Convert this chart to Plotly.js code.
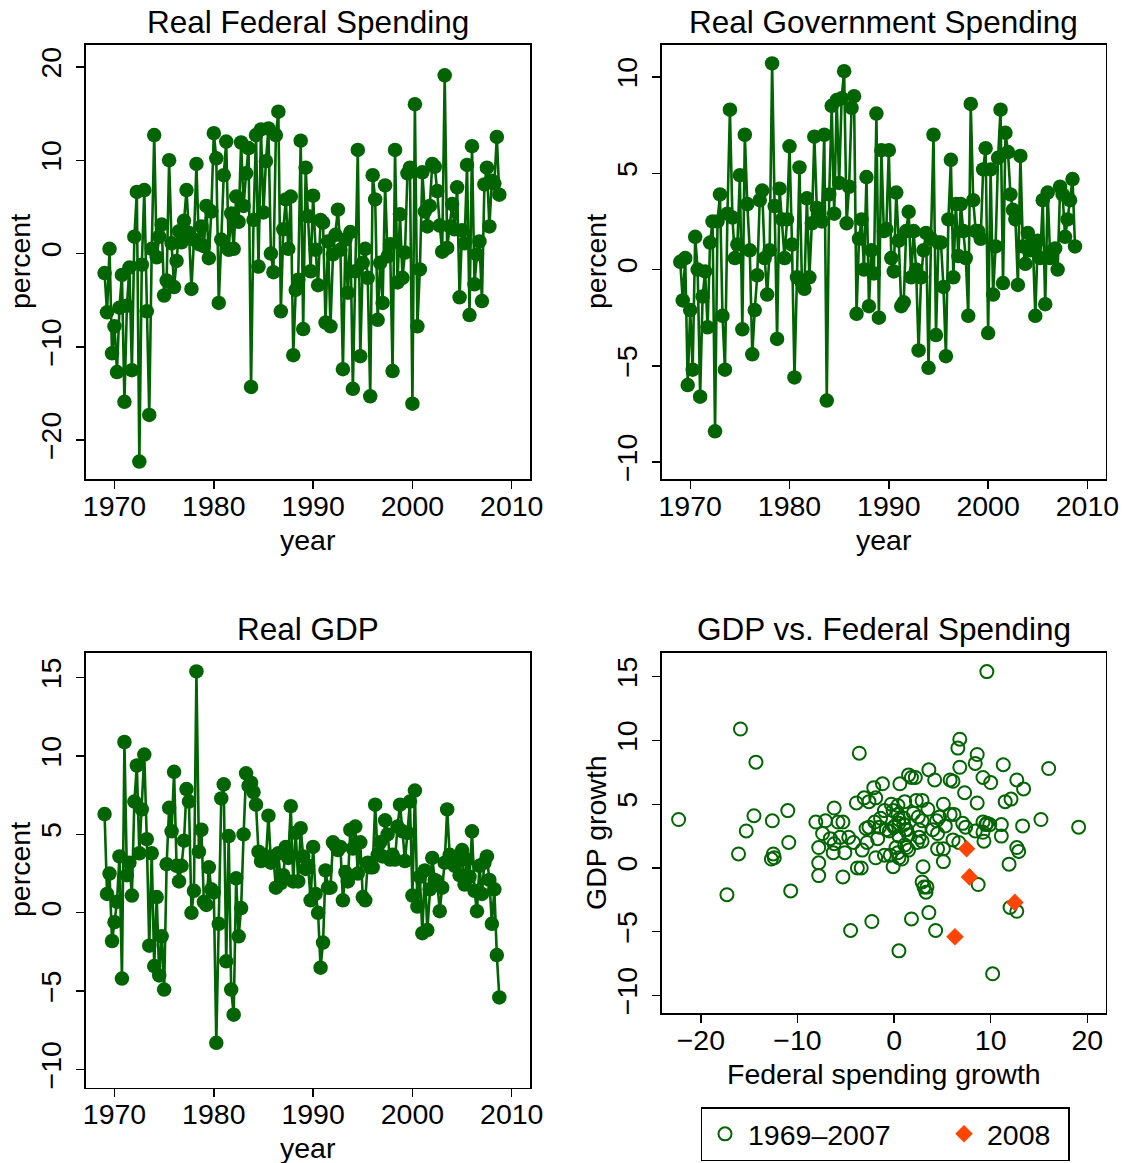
<!DOCTYPE html>
<html>
<head>
<meta charset="utf-8">
<script src="https://cdn.plot.ly/plotly-3.0.1.min.js"></script>
<style>html,body{margin:0;padding:0;background:#fff;}#chart{width:1127px;height:1163px;}</style>
</head>
<body>
<div id="chart"></div>
<script>
// Quarterly growth rates (percent, annualized), 1969Q1 - 2008Q4
const startYear = 1969;

const fedSpending = [
  -2.1, -6.3, 0.5, -10.7, -7.8, -12.7, -5.8, -2.3, -15.9, -5.6,
  -1.5, -12.5, 1.8, 6.6, -22.3, -1.2, 6.8, -6.2, -17.3, 0.5,
  12.7, -0.4, 1.8, 3.1, -4.5, -2.9, 10.0, 1.1, -3.6, -0.8,
  2.4, 1.2, 3.5, 6.8, 2.2, -3.8, 1.5, 9.6, 1.0, 2.9,
  0.8, 5.1, -0.5, 4.5, 12.9, 10.2, -5.3, 1.5, 8.4, 12.0,
  0.4, 4.3, 0.5, 6.1, 3.4, 11.9, 5.1, 8.6, 11.3, -14.3,
  3.6, 12.7, -1.4, 13.3, 4.4, 9.9, 13.4, 0.0, -2.0, 12.7,
  15.2, -6.2, 2.6, 5.8, 0.5, 6.1, -10.9, -3.9, -2.8, 12.1,
  -8.1, 9.2, 4.0, -1.9, 6.2, 0.4, -3.4, 3.6, 3.3, -7.4,
  1.3, -7.8, -0.1, 2.0, 4.7, 0.4, -12.4, 1.5, -4.2, 2.3,
  -14.5, -1.9, 11.1, -11.0, -1.0, 0.5, -2.6, -15.3, 8.4, 5.8,
  -7.1, -1.0, -5.3, 7.3, -0.3, 1.0, -12.6, 11.1, -3.1, 4.2,
  -2.6, 0.1, 8.6, 9.2, -16.1, 16.0, -7.8, -1.7, 8.7, 4.5,
  2.9, 5.1, 9.6, 9.3, 6.7, 3.0, 0.2, 19.1, 0.6, 2.9,
  5.3, 2.6, 7.1, -4.7, 2.5, 1.1, 9.5, -6.6, 11.5, -3.3,
  -0.1, 1.3, -5.1, 7.4, 9.2, 2.9, 7.8, 7.5, 12.5, 6.3
];

const govSpending = [
  0.4, -1.6, 0.6, -6.0, -2.1, -5.2, 1.7, 0.0, -6.6, -1.4,
  -0.1, -3.0, 1.4, 2.5, -8.4, 2.5, 3.9, -2.4, -5.2, 2.9,
  8.3, 2.7, 0.6, 1.3, 4.9, -3.1, 7.0, 3.4, 1.0, -4.4,
  -2.1, -0.3, 3.6, 4.1, 0.6, -1.3, 1.0, 10.7, 3.3, -3.6,
  4.2, 2.6, 0.6, 2.6, 6.4, 1.3, -5.6, -0.4, 5.3, -0.7,
  -1.0, 3.7, -0.4, 2.4, 6.9, 3.2, 2.9, 2.5, 7.0, -6.8,
  3.9, 8.5, 2.9, 8.8, 4.5, 8.9, 10.3, 2.4, 4.3, 8.4,
  9.0, -2.3, 1.6, 2.6, 0.0, 4.8, -1.9, 1.0, -0.2, 8.1,
  -2.5, 6.2, 2.0, 2.1, 6.2, 0.6, -0.1, 4.0, 1.5, -1.9,
  -1.7, 2.0, 3.0, -0.4, 2.0, 0.0, -4.2, -0.4, 1.0, 1.9,
  -5.1, 1.6, 7.0, -3.4, 1.4, 1.4, -0.9, -4.5, 2.6, 5.7,
  -0.4, 3.4, 0.7, 3.4, 2.0, 0.6, -2.4, 8.6, 3.6, 2.0,
  2.0, 1.6, 5.2, 6.3, -3.3, 5.2, -1.3, 1.2, 5.8, 8.3,
  -0.7, 7.1, 6.1, 3.9, 3.1, 2.6, -0.8, 5.9, 1.2, 0.3,
  1.9, 1.0, 1.4, -2.4, 1.5, 0.6, 3.6, -1.8, 4.0, 0.6,
  1.0, 1.1, 0.0, 4.3, 3.9, 1.7, 2.6, 3.6, 4.7, 1.2
];

const realGDP = [
  6.3, 1.2, 2.5, -1.8, -0.6, 0.7, 3.6, -4.2, 10.9, 2.4,
  3.2, 1.1, 7.1, 9.4, 3.8, 6.6, 10.1, 4.7, -2.1, 3.8,
  -3.4, 1.0, -4.0, -1.5, -4.9, 3.1, 6.7, 5.2, 9.0, 3.0,
  2.0, 3.0, 4.6, 7.9, 7.1, 0.0, 1.4, 15.4, 3.9, 5.3,
  0.7, 0.5, 2.9, 1.5, 1.3, -8.3, -0.7, 7.3, 8.2, -3.1,
  4.9, -4.9, -6.5, 2.2, -1.5, 0.3, 5.0, 8.9, 8.1, 8.3,
  7.7, 6.9, 3.9, 3.3, 3.7, 3.4, 6.2, 3.2, 3.6, 1.6,
  3.8, 1.9, 2.4, 4.2, 3.5, 6.8, 2.0, 5.1, 2.0, 5.4,
  3.6, 2.8, 3.0, 0.8, 4.2, 1.2, 0.0, -3.5, -1.9, 2.7,
  1.6, 1.6, 4.5, 4.3, 4.0, 4.2, 0.8, 2.6, 2.0, 5.3,
  4.1, 5.5, 2.5, 4.5, 1.0, 0.8, 3.2, 2.9, 2.9, 6.9,
  3.7, 4.5, 3.6, 5.9, 5.0, 3.4, 3.7, 3.4, 5.5, 6.9,
  5.2, 3.3, 5.1, 7.1, 1.1, 7.8, 0.4, 2.3, -1.3, 2.7,
  -1.1, 1.5, 3.5, 2.1, 2.0, 0.1, 1.6, 3.2, 6.6, 3.7,
  3.3, 3.0, 3.5, 2.4, 4.0, 1.8, 3.4, 2.3, 5.2, 1.4,
  0.1, 3.0, 1.2, 3.2, 3.6, 2.1, -0.7, 1.5, -2.7, -5.4
];

const panelTitles = ["Real Federal Spending", "Real Government Spending", "Real GDP", "GDP vs. Federal Spending"];
const legendLabels = ["1969\u20132007", "2008"];
const lastYearQuarters = 4; // 2008 observations

const years = fedSpending.map((_, i) => startYear + i / 4);
const nHist = fedSpending.length - lastYearQuarters;

const GREEN = "#006400";
const ORANGE = "#FF4500";
const FONT = "Liberation Sans, Arial, Helvetica, sans-serif";
const W = 1127, H = 1163;
const px = v => v / W;
const py = v => 1 - v / H;

const lineTrace = (y, xa, ya) => ({
  x: years, y: y, xaxis: xa, yaxis: ya, type: "scatter", mode: "lines+markers",
  line: {color: GREEN, width: 2.6}, marker: {color: GREEN, size: 14.5},
  showlegend: false, hoverinfo: "x+y"
});

const traces = [
  lineTrace(fedSpending, "x", "y"),
  lineTrace(govSpending, "x2", "y2"),
  lineTrace(realGDP, "x3", "y3"),
  {
    x: fedSpending.slice(0, nHist), y: realGDP.slice(0, nHist), xaxis: "x4", yaxis: "y4",
    type: "scatter", mode: "markers", name: legendLabels[0], legendwidth: 188,
    marker: {symbol: "circle-open", color: GREEN, size: 13, line: {width: 2, color: GREEN}}
  },
  {
    x: fedSpending.slice(nHist), y: realGDP.slice(nHist), xaxis: "x4", yaxis: "y4",
    type: "scatter", mode: "markers", name: legendLabels[1], legendwidth: 76,
    marker: {symbol: "diamond", color: ORANGE, size: 13.5}
  }
];

const tickFont = {family: FONT, size: 28.5, color: "#000"};
const baseAxis = {
  showgrid: false, zeroline: false, showline: true, mirror: true,
  linecolor: "#000", linewidth: 1.6, ticks: "outside", ticklen: 8, tickwidth: 1.4,
  tickcolor: "#000", tickfont: tickFont, fixedrange: true
};
const xTime = (dom, anchor) => Object.assign({}, baseAxis, {
  domain: dom, anchor: anchor, range: [1967.13, 2011.84], tickmode: "array",
  tickvals: [1970, 1980, 1990, 2000, 2010], ticklabelstandoff: -7
});
const yAxis = (dom, anchor, range, tickvals) => Object.assign({}, baseAxis, {
  domain: dom, anchor: anchor, range: range, tickmode: "array",
  tickvals: tickvals, tickangle: -90, ticklabelstandoff: 4
});

const xL = [px(86), px(530)], xR = [px(661.7), px(1105.7)];
const yTop = [py(479.3), py(45)], yBotL = [py(1087.5), py(653)], yBotR = [py(1013.3), py(653)];

const ann = (text, x, y, size, rot) => ({
  text: text, x: px(x), y: py(y), xref: "paper", yref: "paper",
  xanchor: "center", yanchor: "middle", showarrow: false, textangle: rot || 0,
  font: {family: FONT, size: size, color: "#000"}
});

const layout = {
  width: W, height: H, margin: {l: 0, r: 0, t: 0, b: 0},
  paper_bgcolor: "#fff", plot_bgcolor: "#fff",
  font: {family: FONT, color: "#000"},
  xaxis: xTime(xL, "y"),
  yaxis: yAxis(yTop, "x", [-24.2, 22.35], [-20, -10, 0, 10, 20]),
  xaxis2: xTime(xR, "y2"),
  yaxis2: yAxis(yTop, "x2", [-10.89, 11.66], [-10, -5, 0, 5, 10]),
  xaxis3: xTime(xL, "y3"),
  yaxis3: yAxis(yBotL, "x3", [-11.15, 16.58], [-10, -5, 0, 5, 10, 15]),
  xaxis4: Object.assign({}, baseAxis, {domain: xR, anchor: "y4", range: [-24.05, 21.9],
    tickmode: "array", tickvals: [-20, -10, 0, 10, 20], ticklabelstandoff: -7}),
  yaxis4: yAxis(yBotR, "x4", [-11.4, 16.86], [-10, -5, 0, 5, 10, 15]),
  showlegend: true,
  legend: {
    orientation: "h", x: px(700.5), xanchor: "left", y: py(1107.3), yanchor: "top",
    bordercolor: "#000", borderwidth: 1.5, bgcolor: "#fff", itemwidth: 36,
    font: {family: FONT, size: 28.5, color: "#000"}
  },
  annotations: [
    ann(panelTitles[0], 308, 22, 31.5),
    ann(panelTitles[1], 883.7, 22, 31.5),
    ann(panelTitles[2], 308, 629, 31.5),
    ann(panelTitles[3], 883.7, 629, 31.5),
    ann("year", 308, 540, 28.5),
    ann("year", 883.7, 540, 28.5),
    ann("year", 308, 1148, 28.5),
    ann("Federal spending growth", 883.7, 1074, 28.5),
    ann("percent", 20, 262, 28.5, -90),
    ann("percent", 596, 262, 28.5, -90),
    ann("percent", 20, 870, 28.5, -90),
    ann("GDP growth", 596, 833, 28.5, -90)
  ]
};

Plotly.newPlot("chart", traces, layout, {staticPlot: true, displayModeBar: false});
</script>
</body>
</html>
